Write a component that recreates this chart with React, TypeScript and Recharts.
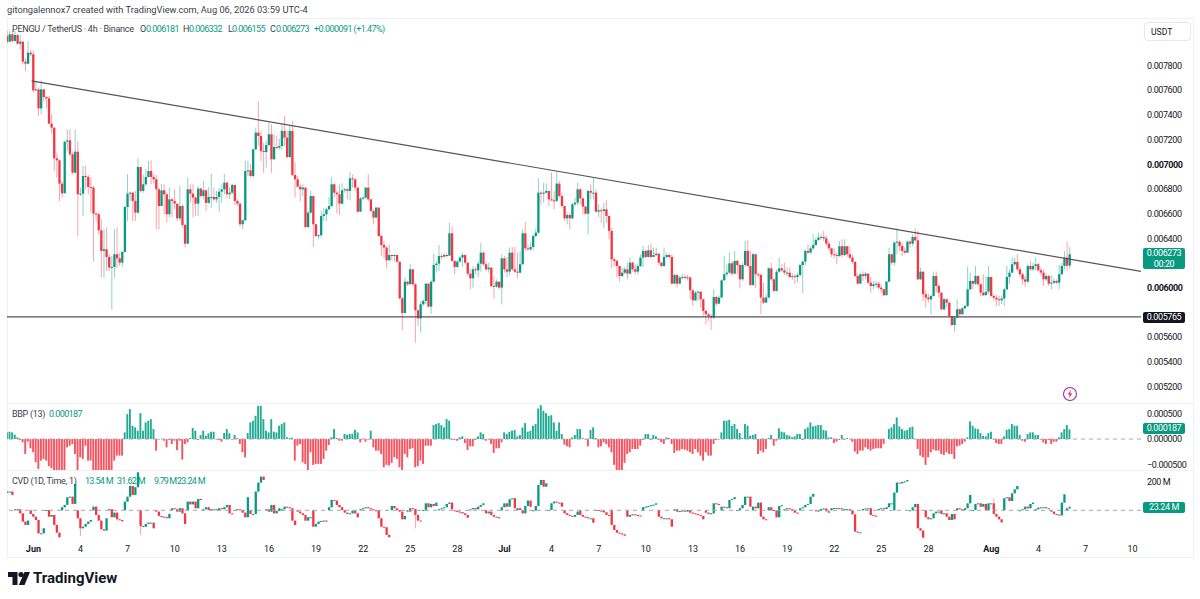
import { BarChart, Bar, XAxis, YAxis, ReferenceLine } from 'recharts';

const GREEN = '#089981';
const RED = '#f23645';

// prices are in millionths of USDT (6273 = 0.006273)
const closes = [
  7995, 8055, 8001, 8049, 7979, 7995, 7833, 7817, 7906, 7893,
  7601, 7609, 7455, 7609, 7547, 7536, 7331, 7299, 7050, 7034,
  6845, 6767, 7185, 7196, 7083, 6934, 7104, 6759, 6764, 6907,
  6899, 6818, 6813, 6602, 6597, 6467, 6300, 6313, 6251, 6165,
  6170, 6273, 6240, 6205, 6292, 6656, 6764, 6772, 6705, 6610,
  6980, 6786, 6840, 6899, 6948, 6899, 6880, 6799, 6664, 6791,
  6759, 6597, 6718, 6705, 6683, 6564, 6664, 6510, 6359, 6799,
  6764, 6732, 6683, 6805, 6745, 6791, 6689, 6737, 6737, 6718,
  6737, 6780, 6799, 6853, 6759, 6772, 6834, 6705, 6683, 6516,
  6548, 6948, 6953, 6907, 7123, 7258, 7231, 7110, 7101, 7158,
  7245, 7042, 7142, 7137, 7150, 7272, 7218, 7061, 7272, 6915,
  6880, 6821,
  6799, 6813, 6494, 6610, 6745, 6516, 6421, 6427, 6583, 6597,
  6637, 6664, 6840, 6772, 6759, 6683, 6791, 6799, 6786, 6888,
  6880, 6813, 6618, 6726, 6732, 6813, 6718, 6624, 6570, 6651,
  6421, 6348, 6327, 6224, 6267, 6259, 6267, 6213, 5916, 5797,
  6051, 6030, 6151, 6030, 5819, 5754, 5868, 5895, 6035, 5849,
  6051, 6186, 6197, 6259, 6254, 6267, 6262, 6443, 6219, 6170, 6213,
  6246, 6267, 6205, 6116, 6078, 6151, 6143, 6197, 6286, 6192,
  6151, 6165, 6016, 6011, 6051, 6003, 6240, 6151, 6132, 6286,
  6151, 6132, 6124, 6192, 6443, 6321, 6313, 6332, 6421, 6448,
  6772, 6764, 6772, 6786, 6718, 6710, 6705, 6845, 6745, 6664,
  6564, 6591, 6564, 6678, 6691, 6799, 6726, 6659, 6602, 6786,
  6772, 6772, 6618, 6629, 6624, 6637, 6583, 6462, 6232, 6219,
  6178, 6097, 6124, 6151, 6116, 6205, 6151, 6132, 6178, 6246,
  6300, 6251, 6305, 6251, 6267, 6278, 6205, 6178, 6251, 6267,
  6251, 6035, 6105, 6035, 6084, 6089, 6087, 6084, 5981, 5900, 5962,
  5970, 5908, 5814, 5787, 5773, 5760, 5927, 5873, 5922, 6062,
  6111, 6124, 6200, 6116, 6219, 6186, 6070, 6186, 6300, 6178,
  6024, 6273, 6111, 6105, 5922, 5881, 5922, 6159, 6070, 5976,
  6132, 6159, 6143, 6124, 6124, 6089, 6095, 6089, 6105, 6186, 6213,
  6300, 6286, 6321, 6348, 6389, 6408, 6413, 6402, 6359, 6321,
  6273, 6267, 6259, 6338, 6267, 6338, 6273, 6246, 6211, 6097,
  6035, 6111, 6097, 6116, 6043, 6016, 6030, 6035, 6003,
  5989, 5941, 6051, 6273, 6205, 6367, 6375, 6340, 6300, 6286,
  6375, 6359, 6413, 6386, 6070, 6132, 5949, 5922, 5908, 5935,
  6097, 6016, 5962, 5827, 5908, 5881, 5773, 5700, 5760, 5827,
  5787, 5835, 5854, 5989, 6057, 6035, 6097, 6030, 5962, 5941,
  5970, 6089, 5935, 5922, 5908, 5900, 5915, 5989, 6089, 6124, 6192,
  6211, 6151, 6111, 6070, 6051, 6178, 6151, 6178, 6192, 6143,
  6124, 6070, 6097, 6035, 6043, 6057, 6043, 6111, 6178, 6246,
  6181, 6273,
];

const highs = [
  8082, 8082, 8095, 8082, 8060, 8049, 8001, 7860, 8001, 7925,
  7920, 7677, 7623, 7682, 7609, 7555, 7555, 7407, 7231, 7096,
  7042, 6867, 7191, 7285, 7285, 7104, 7285, 7191, 6813, 6988,
  6988, 6915, 6894, 6826, 6618, 6610, 6556, 6475, 6489, 6273,
  6259, 6475, 6489, 6286, 6300, 6664, 6921, 6780, 6780, 6786,
  7050, 6980, 6915, 6961, 7029, 7034, 6925, 6915, 6813, 6840,
  6840, 6772, 6813, 6732, 6799, 6678, 6826, 6678, 6521, 6894,
  6840, 6840, 6745, 6826, 6813, 6867, 6799, 6818, 6926, 6813,
  6786, 6813, 6840, 6926, 6861, 6813, 6845, 6834, 6718, 6691,
  6556, 7029, 7029, 7002, 7131, 7299, 7515, 7272, 7177, 7191,
  7339, 7326, 7245, 7231, 7210, 7326, 7393, 7272, 7320, 7353,
  7015, 6907,
  6840, 6840, 6813, 6624, 6786, 6745, 6516, 6435, 6624, 6651,
  6651, 6737, 6899, 6845, 6786, 6840, 6848, 6813, 6810, 6942,
  6920, 6888, 6813, 6737, 6745, 6818, 6921, 6718, 6637, 6656,
  6651, 6435, 6381, 6340, 6354, 6272, 6272, 6267, 6213, 5927,
  6089, 6057, 6192, 6151, 6043, 5827, 5895, 5908, 6043, 6035,
  6062, 6278, 6219, 6348, 6278, 6286, 6280, 6529, 6502, 6219, 6224,
  6259, 6286, 6272, 6205, 6151, 6178, 6170, 6213, 6367, 6300,
  6213, 6205, 6165, 6097, 6070, 6051, 6273, 6259, 6251, 6327,
  6332, 6332, 6286, 6300, 6475, 6535, 6354, 6367, 6435, 6483,
  6888, 6786, 6853, 6848, 6786, 6934, 6786, 6942, 6867, 6772,
  6664, 6610, 6610, 6691, 6732, 6853, 6813, 6732, 6664, 6791,
  6840, 6899, 6799, 6678, 6651, 6691, 6710, 6583, 6488, 6246,
  6232, 6178, 6165, 6170, 6205, 6246, 6213, 6192, 6197, 6273,
  6340, 6313, 6348, 6359, 6327, 6327, 6278, 6213, 6327, 6286,
  6278, 6273, 6116, 6111, 6097, 6116, 6105, 6105, 6097, 5989, 5976,
  5981, 5970, 5916, 5819, 5800, 5792, 5989, 5935, 5935, 6070,
  6259, 6192, 6292, 6219, 6300, 6232, 6192, 6205, 6381, 6386,
  6300, 6286, 6273, 6124, 6116, 6043, 5948, 6170, 6205, 6084,
  6151, 6246, 6192, 6205, 6165, 6165, 6120, 6116, 6124, 6197, 6224,
  6313, 6354, 6340, 6435, 6408, 6448, 6440, 6462, 6421, 6381,
  6327, 6321, 6286, 6381, 6394, 6394, 6338, 6338, 6273, 6219,
  6116, 6124, 6132, 6132, 6105, 6089, 6057, 6057, 6051,
  6030, 5997, 6057, 6327, 6281, 6381, 6483, 6386, 6367, 6327,
  6386, 6386, 6435, 6483, 6462, 6165, 6132, 5981, 5954, 5949,
  6132, 6132, 6030, 5965, 5922, 5916, 5881, 5773, 5773, 5908,
  5835, 5846, 5862, 6173, 6124, 6057, 6178, 6105, 6038, 6111,
  6097, 6178, 6089, 5949, 5943, 5935, 5940, 5997, 6178, 6151, 6246,
  6246, 6273, 6170, 6124, 6097, 6192, 6219, 6205, 6246, 6205,
  6165, 6151, 6116, 6105, 6105, 6078, 6070, 6186, 6205, 6300,
  6375, 6332,
];

const lows = [
  7979, 7995, 7987, 7995, 7968, 7933, 7812, 7758, 7812, 7879,
  7582, 7590, 7393, 7407, 7515, 7455, 7326, 7250, 6948, 6894,
  6705, 6732, 6767, 7110, 7069, 6921, 6926, 6421, 6745, 6583,
  6799, 6759, 6610, 6213, 6543, 6435, 6084, 6084, 6138, 6138,
  5827, 6084, 6165, 6178, 6170, 6286, 6543, 6705, 6543, 6543,
  6602, 6772, 6772, 6826, 6894, 6840, 6845, 6475, 6475, 6664,
  6597, 6529, 6570, 6570, 6637, 6543, 6543, 6489, 6327, 6354,
  6691, 6570, 6583, 6583, 6732, 6718, 6624, 6683, 6651, 6705,
  6691, 6618, 6691, 6759, 6732, 6718, 6759, 6672, 6664, 6494,
  6475, 6543, 6907, 6894, 6894, 7115, 7150, 7029, 6934, 6975,
  7150, 6934, 7042, 7123, 7120, 7123, 7150, 7050, 7050, 6907,
  6732, 6813,
  6700, 6745, 6483, 6483, 6602, 6332, 6408, 6394, 6408, 6543,
  6543, 6629, 6656, 6732, 6602, 6591, 6675, 6772, 6718, 6710,
  6813, 6786, 6610, 6618, 6710, 6718, 6705, 6618, 6516, 6564,
  6413, 6259, 6240, 6159, 6219, 6224, 6213, 6205, 5908, 5660,
  5797, 6016, 6030, 6016, 5557, 5692, 5638, 5854, 5868, 5841,
  5792, 6043, 6124, 6138, 6232, 6246, 6245, 6259, 6213, 6111, 6165,
  6205, 6170, 6192, 6097, 5989, 6003, 6111, 6089, 6132, 6178,
  6138, 6124, 6008, 5914, 6003, 5989, 5868, 6124, 6084, 6097,
  6138, 6124, 6078, 6116, 6186, 6300, 6300, 6300, 6305, 6408,
  6435, 6675, 6691, 6764, 6664, 6705, 6637, 6699, 6732, 6651,
  6543, 6516, 6475, 6556, 6664, 6672, 6678, 6597, 6591, 6435,
  6718, 6718, 6610, 6575, 6529, 6483, 6529, 6394, 6159, 6178,
  6084, 6051, 6089, 6111, 6070, 6111, 6132, 6111, 6111, 6170,
  6170, 6240, 6246, 6240, 6251, 6259, 6186, 6165, 6170, 6240,
  6240, 6030, 6030, 6003, 6030, 6070, 6070, 6062, 5908, 5854, 5895,
  5897, 5841, 5773, 5706, 5733, 5660, 5746, 5854, 5868, 5922,
  6057, 6097, 6111, 6097, 6111, 6111, 5997, 6057, 6170, 6165,
  6016, 6016, 6000, 6089, 5787, 5868, 5881, 5916, 6057, 5962,
  5970, 6124, 6132, 6105, 6097, 6078, 6065, 6030, 6043, 6097, 5957,
  6186, 6273, 6278, 6305, 6340, 6381, 6394, 6381, 6340, 6300,
  6251, 6240, 6192, 6251, 6246, 6259, 6251, 6232, 6197, 6089,
  6024, 6030, 6057, 6070, 6030, 5962, 5989, 6003, 5989,
  5962, 5935, 5946, 6049, 6186, 6178, 6273, 6300, 6259, 6278,
  6286, 6327, 6340, 6375, 6062, 6062, 5895, 5841, 5881, 5787,
  5930, 5962, 5922, 5819, 5819, 5846, 5760, 5692, 5646, 5754,
  5773, 5781, 5827, 5846, 5981, 5989, 6024, 6016, 5935, 5935,
  5949, 5949, 5927, 5895, 5854, 5854, 5870, 5854, 5981, 6035, 6124,
  6178, 6138, 6089, 6024, 6008, 6043, 6138, 6138, 6143, 6132,
  6097, 6016, 6057, 6016, 5989, 6030, 6030, 5989, 6105, 6151,
  6143, 6155,
];

// BBP (13), millionths
const bbp = [
  130, 143, 130, 85, 33, -20, -65, -293, -52, -182,
  -260, -455, -585, -423, -390, -423, -533, -572, -618, -637,
  -637, -637, -637, -163, -130, -98, -293, -631, -358, -390,
  -130, -423, -423, -631, -631, -631, -631, -631, -631, -631,
  -631, -423, -325, -325, -325, 130, 488, 585, 260, 228,
  163, 507, 163, 325, 358, 390, 195, -228, -13, 0,
  -33, -163, -20, -98, -33, -215, -33, -403, -98, -65,
  20, 215, 163, -20, 78, 163, 65, 111, 143, 143,
  -13, -20, -52, 117, 195, 111, -13, 78, 20, -98,
  -260, -358, 117, 325, 358, 455, 650, 650, 390, 163,
  130, 390, 143, 130, 260, 293, 325, 33, 20, 26,
  -423, -130, -98, -455, -488, -618, -260, -507, -488, -488,
  -488, -390, -228, -117, 33, 195, 20, -33, -33, 98,
  85, 98, 98, 182, 130, -65, 0, -52, -13, 163,
  -163, -228, -228, -293, -553, -507, -520, -468, -358, -390,
  -553, -631, -293, -358, -195, -182, -553, -533, -423, -488,
  -130, -130, -130, 273, 293, 312, 273, 228, 390, 358,
  -13, -20, -33, 33, 52, -78, -215, -143, -143, -20,
  52, 130, 98, -33, -13, -98, -273, -182, -182, -65,
  130, 98, 143, 163, 176, 52, 78, 228, 312, 143,
  163, 260, 293, 598, 663, 553, 507, 455, 468, 325,
  163, 325, 98, -111, -143, -163, 33, 78, 195, 195,
  20, -13, -143, 176, 228, 20, -163, -143, -65, -98,
  -163, -260, -507, -631, -631, -631, -468, -293, -260, -195,
  -195, -195, -130, -20, 98, 98, -20, 78, 52, -20,
  -65, -98, 33, 20, -98, -273, -228, -228, -195, -208,
  -228, -260, -293, -195, -260, -325, -423, -260, -325, -325,
  -98, -20, -13, 130, 358, 358, 377, 260, 293, 195,
  117, 20, 293, 260, 65, 78, 98, -293, -228, -260,
  -195, 20, 78, -130, -33, 208, 143, 130, 78, 65,
  33, 52, 98, 98, -20, 195, 228, 325, 247, 260,
  273, 273, 176, 163, 33, 33, -78, -52, -20, 78,
  -20, 20, 0, -52, -247, -293, -228, -228, -163, -195,
  -228, -195, -182, -182, -182, -98, 0, 195, 228, 293,
  423, 247, 195, 163, 176, 228, 241, 0, -195, -325,
  -358, -507, -358, -260, -208, -228, -228, -293, -312, -260,
  -293, -293, -390, -143, -130, -98, -52, 33, 345, 260,
  208, 195, 117, 65, 52, 117, 143, -13, -78, -98,
  -98, 52, 182, 195, 293, 260, 260, 78, -33, -52,
  98, 130, 130, 78, 78, -13, -65, -98, -20, -98,
  -52, -52, 33, 130, 195, 273, 187,
];

// CVD (1D) closes in millions, the first three then six candles a day
const cvdCloses = [
  129, 129, 106,
  7, 7, -21, -78, -101, -71,
  -25, -44, -67, -159, -159, -124,
  2, -44, -32, -101, -154, -186,
  21, 37, 90, 94, 44, 182,
  -55, -124, -113, -94, -78, -67,
  25, -32, -71, -131, -140, -55,
  7, -48, -16, -62, -67, -76,
  60, 94, 168, 106, 159, 262,
  -108, -113, -94, -85, -85, -124,
  -9, -39, -44, -48, -55, -25,
  14, 7, -9, 14, -21, -94,
  60, 41, 60, 14, 78, 71,
  7, 21, 2, 7, 7, 2,
  14, 7, 21, 37, -21, -25,
  2, 7, 2, -16, -48, 90,
  -25, -25, 129, 191, 232, 209,
  7, -9, 37, -21, -5, 14,
  7, 25, 21, 14, -71, -101,
  -9, -21, -32, -71, -48, -48,
  -113, -94, -78, -74, -71, -78,
  21, 71, 67, 37, 21, 2,
  -16, -25, -21, -2, -21, -48,
  7, 14, 21, 14, 7, 2,
  -2, -55, -113, -117, -170, -186,
  30, 14, 2, -9, -62, -39,
  -9, 14, 9, -32, -71, -74,
  2, 48, 21, 44, 30, 53,
  7, 14, 21, 44, 53, 7,
  -5, -9, -12, -21, -32, -51,
  7, 16, 7, 25, 37, 48,
  -21, -9, -32, -44, -48, -55,
  21, 48, 25, 76, 83, 14,
  14, 2, -21, 30, 67, 25,
  -2, 30, 175, 209, 163, 186,
  2, 48, 60, 53, 53, 25,
  -21, -32, -39, -44, -32, -9,
  -32, -44, -48, -55, -55, -85,
  2, -2, -5, -14, -32, -39,
  -101, -136, -154, -159, -166, -175,
  -44, -32, -28, -32, -37, -39,
  21, 25, 30, 35, 39, 48,
  -44, -55, -55, -55, -62, -113,
  7, -9, -5, -2, -9, 2,
  -16, -21, -25, -32, -39, -62,
  -16, -25, -21, 48, 44, 37,
  25, 21, 14, 71, 78, 90,
  2, 14, 37, 94, 94, 25,
  25, 14, 53, -44, -62, -67,
  21, 2, -2, -48, 30, 35,
  7, 14, 7, -2, -16, -21,
  14, 21, 37, 44, 94, 113,
  -5, -2, 9, 12, -7, -16,
  14, 16, 12, 14, 7, 9,
  7, 0, -28, -147, -154, -152,
  9, 12, 14, -32, -37, -41,
  9, 14, 9, 21, 48, 48,
  122, 191, 186, 196, 200, 209,
  0, 21, 44, -124, -140, -189,
  -48, -62, -55, -21, -9, -9,
  -25, -21, -44, -67, -25, -62,
  14, 7, 2, 14, 48, 106,
  2, 44, 48, 25, 44, 2,
  48, 48, -25, -44, -62, -83,
  83, 90, 64, 117, 145, 168,
  0, 7, 25, 14, 44, 53,
  7, 18, 21, 21, 14, 14,
  -9, -25, -30, -35, 53, 110,
  13.54, 23.24,
];

// the few CVD candles with a visible wick, by candle number
const cvdWickHighs: Record<number, number> = { 231: 14, 377: 83, 406: 31.62 };
const cvdWickLows: Record<number, number> = { 28: -177, 51: -170, 156: -124, 406: 9.79 };

const xTicks = [10, 28, 46, 64, 82, 100, 118, 136, 154, 172, 190, 208, 226, 244, 262, 280, 298, 316, 334, 352, 376, 394, 412, 430];
const xLabels = ['Jun', '4', '7', '10', '13', '16', '19', '22', '25', '28', 'Jul', '4', '7', '10', '13', '16', '19', '22', '25', '28', 'Aug', '4', '7', '10'];
const priceTicks = [5200, 5400, 5600, 6000, 6400, 6600, 6800, 7000, 7200, 7400, 7600, 7800];
const bbpTicks = [-500, 0, 500];
const cvdTicks = [200];

const trendStart = { x: 9.3, y: 7677 };
const trendEnd = { x: 433.2, y: 6134 };
const supportLevel = 5765;

const candleData = closes.map((close, i) => {
  const open = i === 0 ? 8040 : closes[i - 1];
  const high = Math.max(highs[i], open, close);
  const low = Math.min(lows[i], open, close);
  return { i, open, close, high, low, range: [low, high] };
});

const bbpData = bbp.map((value, i) => ({ i, value }));

const cvdData = cvdCloses.map((close, i) => {
  const open = i === 0 ? 120 : i % 6 === 3 ? 0 : cvdCloses[i - 1];
  const high = Math.max(open, close, cvdWickHighs[i] ?? close);
  const low = Math.min(open, close, cvdWickLows[i] ?? close);
  return { i, open, close, high, low, range: [low, high] };
});

const FONT = 'Roboto, sans-serif';
const INK = '#3a3e48';
const xDomain: [number, number] = [-0.1, 433.2];

function Candle(props: any) {
  const { x, y, width, height, payload } = props;
  const { open, close, high, low } = payload;
  const top = Math.min(y, y + height);
  const h = Math.abs(height);
  const perUnit = high > low ? h / (high - low) : 0;
  const cx = x + width / 2;
  const bodyTop = top + (high - Math.max(open, close)) * perUnit;
  const bodyH = Math.max(1, Math.abs(open - close) * perUnit);
  const color = close >= open ? GREEN : RED;
  return (
    <g>
      <rect x={cx - 0.5} y={top} width={1} height={h} fill={color} opacity={0.45} />
      <rect x={cx - 1.15} y={bodyTop} width={2.3} height={bodyH} fill={color} />
    </g>
  );
}

function HistBar(props: any) {
  const { x, y, width, height, payload } = props;
  const top = Math.min(y, y + height);
  return <rect x={x} y={top} width={width} height={Math.abs(height)} fill={payload.value >= 0 ? '#22ab94' : '#f7525f'} />;
}

function PriceTick(props: any) {
  const { x, y, payload } = props;
  const strong = payload.value === 7000 || payload.value === 6000;
  return (
    <text x={x - 2} y={y + 3} fontFamily={FONT} fontSize={9} letterSpacing={-0.4} fontWeight={strong ? 700 : 400} fill="#131722">
      {(payload.value / 1e6).toFixed(6)}
    </text>
  );
}

function BbpTick(props: any) {
  const { x, y, payload } = props;
  const v = payload.value;
  return (
    <text x={x - 2} y={y + 3} fontFamily={FONT} fontSize={9} letterSpacing={-0.4} fill="#131722">
      {(v < 0 ? '\u2212' : '') + (Math.abs(v) / 1e6).toFixed(6)}
    </text>
  );
}

function CvdTick(props: any) {
  const { x, y, payload } = props;
  return (
    <text x={x - 2} y={y + 4} fontFamily={FONT} fontSize={9} letterSpacing={-0.4} fill="#131722">
      {payload.value} M
    </text>
  );
}

function TimeTick(props: any) {
  const { x, y, payload } = props;
  const label = xLabels[xTicks.indexOf(payload.value)];
  const strong = label === 'Jun' || label === 'Jul' || label === 'Aug';
  return (
    <text x={x} y={y + 6} textAnchor="middle" fontFamily={FONT} fontSize={9} fontWeight={strong ? 700 : 400} fill="#131722">
      {label}
    </text>
  );
}

function PriceBox({ top, height, bg, lines }: { top: number; height: number; bg: string; lines: string[] }) {
  return (
    <div
      style={{
        position: 'absolute',
        left: 1143,
        top,
        width: 42,
        height,
        background: bg,
        color: '#fff',
        borderRadius: 2,
        fontSize: 9,
        letterSpacing: -0.4,
        lineHeight: `${height / lines.length}px`,
        textAlign: 'center',
      }}
    >
      {lines.map((l) => (
        <div key={l}>{l}</div>
      ))}
    </div>
  );
}

function FrameLine({ left, top, width, height }: { left: number; top: number; width: number; height: number }) {
  return <div style={{ position: 'absolute', left, top, width, height, background: '#eef0f4' }} />;
}

function Label({ left, top, color, size, squeeze = 0, children }: { left: number; top: number; color: string; size: number; squeeze?: number; children: string }) {
  return (
    <div style={{ position: 'absolute', left, top, fontSize: size, letterSpacing: -squeeze, lineHeight: '12px', color, whiteSpace: 'nowrap' }}>{children}</div>
  );
}

export default function App() {
  return (
    <div style={{ position: 'absolute', left: 0, top: 0, width: 1200, height: 599, background: '#fff', fontFamily: FONT, overflow: 'hidden' }}>
      <FrameLine left={7} top={18} width={1186} height={1} />
      <FrameLine left={7} top={403} width={1186} height={1} />
      <FrameLine left={7} top={470} width={1186} height={1} />
      <FrameLine left={7} top={557} width={1186} height={1} />
      <FrameLine left={7} top={18} width={1} height={539} />
      <FrameLine left={1193} top={18} width={1} height={539} />

      <div style={{ position: 'absolute', left: 0, top: 18 }}>
        <BarChart width={1193} height={385} data={candleData} margin={{ top: 0, right: 0, bottom: 0, left: 7 }}>
          <XAxis dataKey="i" type="number" domain={xDomain} hide allowDataOverflow />
          <YAxis
            orientation="right"
            width={52}
            domain={[5068, 8187]}
            allowDataOverflow
            ticks={priceTicks}
            interval={0}
            axisLine={false}
            tickLine={false}
            tick={PriceTick}
          />
          <Bar dataKey="range" barSize={3} isAnimationActive={false} shape={Candle} />
          <ReferenceLine segment={[trendStart, trendEnd]} stroke="#555" strokeWidth={1.2} ifOverflow="visible" />
          <ReferenceLine y={supportLevel} stroke="#555" strokeWidth={1.3} />
        </BarChart>
      </div>

      <div style={{ position: 'absolute', left: 0, top: 403 }}>
        <BarChart width={1193} height={67} data={bbpData} margin={{ top: 0, right: 0, bottom: 0, left: 7 }}>
          <XAxis dataKey="i" type="number" domain={xDomain} hide allowDataOverflow />
          <YAxis
            orientation="right"
            width={52}
            domain={[-607, 706]}
            allowDataOverflow
            ticks={bbpTicks}
            interval={0}
            axisLine={false}
            tickLine={false}
            tick={BbpTick}
          />
          <ReferenceLine y={0} stroke="#a3a6af" strokeDasharray="4 4" />
          <Bar dataKey="value" barSize={1.9} isAnimationActive={false} shape={HistBar} />
        </BarChart>
      </div>

      <div style={{ position: 'absolute', left: 0, top: 470 }}>
        <BarChart width={1193} height={87} data={cvdData} margin={{ top: 0, right: 0, bottom: 0, left: 7 }}>
          <XAxis
            dataKey="i"
            type="number"
            domain={xDomain}
            allowDataOverflow
            ticks={xTicks}
            interval={0}
            height={19}
            axisLine={false}
            tickLine={false}
            tick={TimeTick}
          />
          <YAxis
            orientation="right"
            width={52}
            domain={[-191, 278]}
            allowDataOverflow
            ticks={cvdTicks}
            interval={0}
            axisLine={false}
            tickLine={false}
            tick={CvdTick}
          />
          <ReferenceLine y={0} stroke="#a3a6af" strokeDasharray="4 4" />
          <Bar dataKey="range" barSize={3} isAnimationActive={false} shape={Candle} />
        </BarChart>
      </div>

      <Label left={7} top={4} color={INK} size={9.27}>gitongalennox7 created with TradingView.com, Aug 06, 2026 03:59 UTC-4</Label>

      <Label left={12} top={23} color={INK} size={9} squeeze={0.25}>PENGU / TetherUS · 4h · Binance</Label>
      <Label left={140} top={23} color={INK} size={9}>O</Label>
      <Label left={146} top={23} color={GREEN} size={9} squeeze={0.6}>0.006181</Label>
      <Label left={183} top={23} color={INK} size={9}>H</Label>
      <Label left={189} top={23} color={GREEN} size={9} squeeze={0.6}>0.006332</Label>
      <Label left={228} top={23} color={INK} size={9}>L</Label>
      <Label left={232} top={23} color={GREEN} size={9} squeeze={0.6}>0.006155</Label>
      <Label left={270} top={23} color={INK} size={9}>C</Label>
      <Label left={276} top={23} color={GREEN} size={9} squeeze={0.6}>0.006273</Label>
      <Label left={314} top={23} color={GREEN} size={9} squeeze={0.55}>+0.000091 (+1.47%)</Label>

      <Label left={12} top={408} color={INK} size={9} squeeze={0.3}>BBP (13)</Label>
      <Label left={49} top={408} color={GREEN} size={9} squeeze={0.6}>0.000187</Label>

      <Label left={12} top={475} color={INK} size={9} squeeze={0.3}>CVD (1D, Time, 1)</Label>
      <Label left={85} top={475} color={GREEN} size={9} squeeze={0.7}>13.54 M</Label>
      <Label left={117} top={475} color={GREEN} size={9} squeeze={0.7}>31.62 M</Label>
      <Label left={154} top={475} color={GREEN} size={9} squeeze={0.9}>9.79 M</Label>
      <Label left={177} top={475} color={GREEN} size={9} squeeze={0.7}>23.24 M</Label>

      <div
        style={{
          position: 'absolute',
          left: 1144,
          top: 22,
          width: 47,
          height: 19,
          boxSizing: 'border-box',
          background: '#fff',
          border: '1px solid #e6e8ee',
          borderRadius: 4,
          fontSize: 8.6,
          lineHeight: '18px',
          paddingLeft: 6,
          color: '#131722',
        }}
      >
        USDT
      </div>

      <PriceBox top={248} height={21} bg={GREEN} lines={['0.006273', '00:20']} />
      <PriceBox top={312} height={11} bg="#131722" lines={['0.005765']} />
      <PriceBox top={423} height={11} bg={GREEN} lines={['0.000187']} />
      <PriceBox top={502} height={11} bg={GREEN} lines={['23.24 M']} />

      <svg style={{ position: 'absolute', left: 1062, top: 386 }} width={16} height={16} viewBox="0 0 16 16">
        <circle cx={8} cy={8} r={6.5} fill="none" stroke="#9c27b0" strokeWidth={1.1} />
        <path d="M9 3.8 L5.8 8.6 H7.8 L7 12.2 L10.2 7.4 H8.2 Z" fill="#e91e63" />
      </svg>

      <svg style={{ position: 'absolute', left: 8, top: 571 }} width={22} height={15} viewBox="0 0 22 15">
        <path d="M0 1 H9.5 V14 H4.5 V6 H0 Z" fill="#131722" />
        <circle cx={13} cy={3.6} r={2.6} fill="#131722" />
        <path d="M16.5 1 H22 L16.5 14 H10.8 Z" fill="#131722" />
      </svg>
      <div style={{ position: 'absolute', left: 33, top: 569, fontSize: 15, lineHeight: '18px', fontWeight: 700, color: '#131722', whiteSpace: 'nowrap' }}>
        TradingView
      </div>
    </div>
  );
}
